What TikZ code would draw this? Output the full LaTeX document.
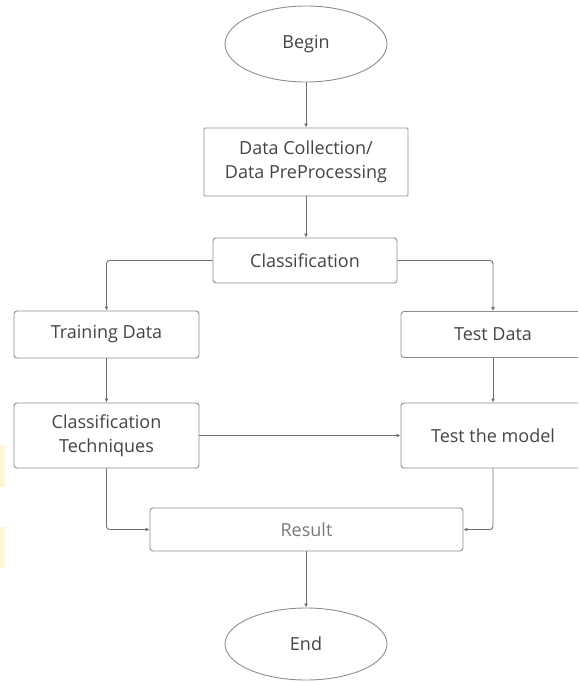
\documentclass[tikz,border=0pt]{standalone}
\usepackage{fontspec}
\setmainfont{Open Sans}
\usetikzlibrary{shapes.geometric,arrows.meta}
\definecolor{txt}{HTML}{444444}
\definecolor{lighttxt}{HTML}{7A7A7A}
\definecolor{edge}{HTML}{8E8E8E}
\definecolor{conn}{HTML}{707070}
\definecolor{yel}{HTML}{FFF5D2}
\tikzset{
  box/.style={draw=edge, line width=0.9pt, rounded corners=3pt, fill=white, text=txt,
    font=\fontsize{18}{24}\selectfont, align=center, inner sep=0pt},
  oval/.style={ellipse, draw=edge, line width=0.9pt, fill=white, text=txt,
    font=\fontsize{18}{24}\selectfont, inner sep=0pt},
  link/.style={draw=conn, line width=0.9pt, -{Latex[length=4pt,width=4pt]}}
}
\begin{document}
\begin{tikzpicture}[x=1pt,y=-1pt]
\useasboundingbox (0,0) rectangle (578,682);
\clip (0,0) rectangle (578,682);
\fill[yel] (0,445) rectangle (5,487);
\fill[yel] (0,527) rectangle (5,568);
\node[oval, minimum width=162pt, minimum height=76pt] (begin) at (306,44) {Begin};
\node[box, rounded corners=1pt, minimum width=204pt, minimum height=68pt] (dc) at (306,162) {Data Collection/\\Data PreProcessing};
\node[box, minimum width=184pt, minimum height=45pt] (cls) at (305,260.5) {Classification};
\node[box, minimum width=185pt, minimum height=47pt] (train) at (106.5,334.5) {Training Data};
\node[box, minimum width=184pt, minimum height=46pt] (test) at (493,334.5) {Test Data};
\node[box, minimum width=185pt, minimum height=65pt] (tech) at (106.5,435.5) {Classification\\Techniques};
\node[box, minimum width=184pt, minimum height=65pt] (model) at (493,435.5) {Test the model};
\node[box, text=lighttxt, minimum width=313pt, minimum height=43pt] (res) at (306.5,529.5) {Result};
\node[oval, minimum width=162pt, minimum height=72pt] (end) at (306,644) {End};
\draw[link] (begin) -- (dc);
\draw[link] (dc) -- (dc |- cls.north);
\draw[link, rounded corners=3pt] (cls.west) -| (train.north);
\draw[link, rounded corners=3pt] (cls.east) -| (test.north);
\draw[link] (train) -- (tech);
\draw[link] (test) -- (model);
\draw[link] (tech) -- (model);
\draw[link, rounded corners=3pt] (tech.south) |- (res.west);
\draw[link, rounded corners=3pt] (model.south) |- (res.east);
\draw[link] (res.south -| end.north) -- (end.north);
\end{tikzpicture}
\end{document}
